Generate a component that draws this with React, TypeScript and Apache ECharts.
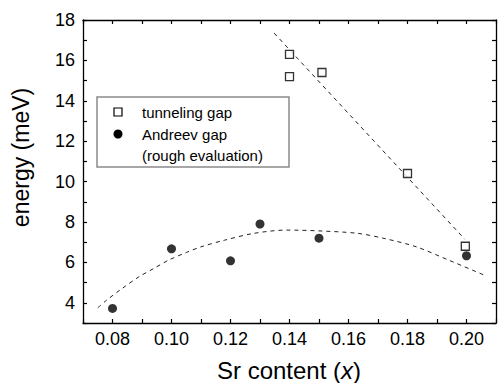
import React, { useEffect, useRef } from "react";
import * as echarts from "echarts";

const tunnelX = [0.14, 0.14, 0.151, 0.18, 0.1996];
const tunnelY = [16.3, 15.2, 15.4, 10.4, 6.8];
const andreevX = [0.08, 0.1, 0.12, 0.13, 0.15, 0.2];
const andreevY = [3.72, 6.67, 6.08, 7.9, 7.2, 6.33];
const tunnelFitX = [0.1348, 0.1994];
const tunnelFitY = [17.35, 7.15];
const andreevFitX = [0.075, 0.078, 0.083, 0.089, 0.094, 0.099, 0.105, 0.11, 0.118, 0.128, 0.139, 0.15, 0.163, 0.172, 0.183, 0.194, 0.206];
const andreevFitY = [3.75, 4.13, 4.68, 5.29, 5.7, 6.11, 6.49, 6.77, 7.1, 7.44, 7.6, 7.56, 7.44, 7.19, 6.77, 6.11, 5.37];
const legendLabels = ["tunneling gap", "Andreev gap", "(rough evaluation)"];
const xTitle = "Sr content ";
const yTitle = "energy (meV)";

const FONT = "'Liberation Sans', Arial, sans-serif";

const zip = (xs: number[], ys: number[]) => xs.map((x, i) => [x, ys[i]]);

export default function App() {
  const ref = useRef<HTMLDivElement>(null);
  useEffect(() => {
    if (!ref.current) return;
    const chart = echarts.init(ref.current, undefined, { renderer: "svg" });
    const axisLine = { show: true, lineStyle: { color: "#000", width: 1.3 } };
    const axisTick = { show: true, inside: true, length: 4, lineStyle: { color: "#000", width: 1.2 } };
    const xLabel = {
      show: true,
      fontSize: 18,
      fontFamily: FONT,
      color: "#000",
      margin: 7,
      formatter: (v: number) => (Math.round(v * 100) % 2 === 0 ? v.toFixed(2) : ""),
    };
    const yLabel = {
      show: true,
      fontSize: 18,
      fontFamily: FONT,
      color: "#000",
      margin: 8,
      formatter: (v: number) => (Math.round(v) % 2 === 0 ? String(Math.round(v)) : ""),
    };
    chart.setOption({
      animation: false,
      backgroundColor: "#fff",
      grid: { left: 83, right: 2, top: 20, bottom: 60 },
      xAxis: [
        { type: "value", min: 0.07, max: 0.21, interval: 0.01, position: "bottom", axisLine, axisTick, axisLabel: xLabel, splitLine: { show: false } },
        { type: "value", min: 0.07, max: 0.21, interval: 0.01, position: "top", axisLine, axisTick, axisLabel: { show: false }, splitLine: { show: false } },
      ],
      yAxis: [
        { type: "value", min: 3, max: 18, interval: 1, position: "left", axisLine, axisTick, axisLabel: yLabel, splitLine: { show: false } },
        { type: "value", min: 3, max: 18, interval: 1, position: "right", axisLine, axisTick, axisLabel: { show: false }, splitLine: { show: false } },
      ],
      series: [
        {
          type: "line",
          data: zip(tunnelFitX, tunnelFitY),
          symbol: "none",
          lineStyle: { color: "#222", width: 1, type: [4, 4] },
          z: 1,
        },
        {
          type: "line",
          data: zip(andreevFitX, andreevFitY),
          symbol: "none",
          smooth: 0.3,
          lineStyle: { color: "#222", width: 1, type: [4, 4] },
          z: 1,
        },
        {
          name: legendLabels[0],
          type: "scatter",
          data: zip(tunnelX, tunnelY),
          symbol: "rect",
          symbolSize: 8,
          itemStyle: { color: "#fff", borderColor: "#000", borderWidth: 1.3 },
          z: 3,
        },
        {
          name: legendLabels[1],
          type: "scatter",
          data: zip(andreevX, andreevY),
          symbol: "circle",
          symbolSize: 9,
          itemStyle: { color: "#000" },
          z: 3,
        },
      ],
      graphic: [
        {
          type: "rect",
          shape: { x: 97, y: 97, width: 192, height: 70 },
          style: { fill: "#fff", stroke: "#8a8a8a", lineWidth: 1.5 },
          z: 10,
        },
        {
          type: "rect",
          shape: { x: 114, y: 108, width: 8, height: 8 },
          style: { fill: "#fff", stroke: "#000", lineWidth: 1.2 },
          z: 11,
        },
        {
          type: "circle",
          shape: { cx: 118, cy: 134, r: 4.5 },
          style: { fill: "#000" },
          z: 11,
        },
        ...legendLabels.map((t, i) => ({
          type: "text",
          x: 142,
          y: [112, 134, 155][i],
          style: { text: t, fontSize: 15, fontFamily: FONT, fill: "#000", verticalAlign: "middle", align: "left" },
          z: 11,
        })),
        {
          type: "text",
          x: 21,
          y: 157.5,
          rotation: Math.PI / 2,
          style: { text: yTitle, fontSize: 23, fontFamily: FONT, fill: "#000", align: "center", verticalAlign: "middle" },
        },
        {
          type: "text",
          x: 289,
          y: 370.5,
          style: {
            text: "{n|" + xTitle + "(}{i|x}{n|)}",
            align: "center",
            verticalAlign: "middle",
            rich: {
              n: { fontSize: 24, fontFamily: FONT, fill: "#000", color: "#000" },
              i: { fontSize: 24, fontFamily: FONT, fontStyle: "italic", fill: "#000", color: "#000" },
            },
          },
        },
      ],
    });
    return () => chart.dispose();
  }, []);
  return <div ref={ref} style={{ position: "absolute", left: 0, top: 0, width: 499, height: 383 }} />;
}
